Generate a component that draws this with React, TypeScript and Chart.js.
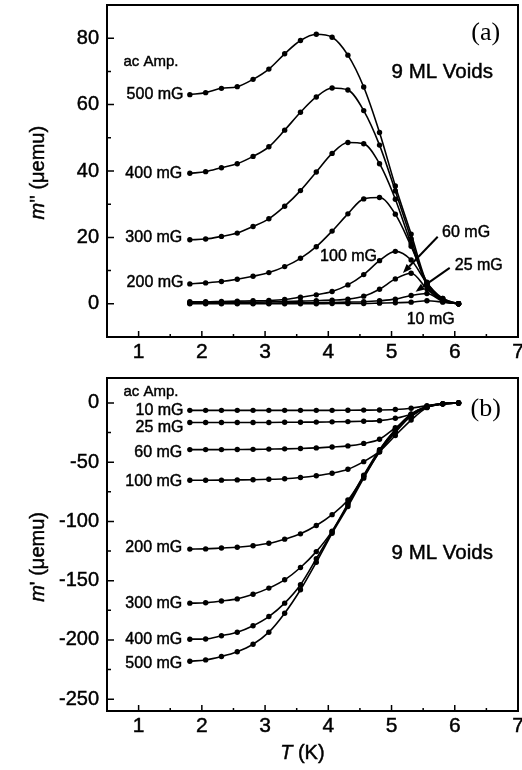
import React, { useEffect, useRef } from 'react';
import { Chart, registerables } from 'chart.js';
Chart.register(...registerables);

const FONT = '"Liberation Sans", Arial, sans-serif';
const SERIF = '"Liberation Serif", "Times New Roman", serif';

// Temperature (K)
const T = [1.81, 2.06, 2.31, 2.56, 2.81, 3.06, 3.31, 3.56, 3.81, 4.06, 4.31, 4.56, 4.81, 5.06, 5.31, 5.56, 5.81, 6.06];

// Panel (a): m'' (uemu)
const M2_500 = [63.0, 63.6, 64.9, 65.4, 67.6, 70.7, 75.3, 79.3, 81.2, 80.3, 74.9, 65.3, 51.6, 35.5, 21.0, 6.2, 1.6, 0];
const M2_400 = [39.3, 39.8, 41.0, 42.2, 44.4, 47.3, 52.3, 57.7, 62.3, 65.0, 64.4, 58.2, 47.8, 34.0, 19.5, 5.5, 1.1, 0];
const M2_300 = [19.3, 19.5, 20.3, 21.3, 23.3, 25.6, 29.4, 34.1, 39.7, 45.3, 48.6, 48.2, 42.2, 31.5, 18.0, 6.0, 1.1, 0];
const M2_200 = [6.0, 6.3, 6.7, 7.4, 8.3, 9.4, 11.2, 13.7, 17.2, 21.9, 27.1, 31.6, 32.0, 27.0, 17.3, 6.5, 1.6, 0];
const M2_100 = [0.6, 0.6, 0.7, 0.8, 0.9, 1.0, 1.3, 2.0, 2.7, 3.7, 5.7, 8.8, 13.0, 15.8, 13.2, 6.2, 1.2, 0];
const M2_60 = [0.4, 0.4, 0.4, 0.5, 0.5, 0.6, 0.7, 0.8, 0.9, 1.1, 1.4, 2.3, 4.4, 7.5, 9.2, 4.5, 0.9, 0];
const M2_25 = [0.2, 0.2, 0.2, 0.2, 0.2, 0.2, 0.3, 0.3, 0.3, 0.4, 0.5, 0.6, 0.9, 1.4, 2.5, 3.1, 0.7, 0];
const M2_10 = [0.0, 0.0, 0.0, 0.0, 0.0, 0.0, 0.0, 0.0, 0.0, 0.1, 0.1, 0.1, 0.2, 0.3, 0.5, 0.9, 0.5, 0];

// Panel (b): m' (uemu)
const M1_10 = [-6.3, -6.3, -6.3, -6.3, -6.3, -6.3, -6.3, -6.3, -6.3, -6.3, -6.2, -6.1, -6.0, -5.6, -4.5, -2.3, -0.8, 0];
const M1_25 = [-16.6, -16.6, -16.6, -16.6, -16.6, -16.5, -16.4, -16.3, -16.2, -16.0, -15.8, -15.5, -15.0, -13.0, -9.5, -3.5, -0.8, 0];
const M1_60 = [-39.4, -39.4, -39.4, -39.3, -39.2, -39.0, -38.8, -38.5, -38.0, -37.2, -36.3, -34.2, -30.7, -21.0, -11.5, -3.5, -0.8, 0];
const M1_100 = [-65.3, -65.3, -65.2, -65.0, -64.8, -64.5, -64.0, -63.0, -61.5, -59.4, -56.0, -49.6, -41.0, -27.5, -14.5, -4.0, -0.8, 0];
const M1_200 = [-123.4, -123.2, -122.5, -121.8, -120.5, -118.5, -115.0, -110.5, -103.5, -94.3, -82.0, -62.0, -41.5, -25.0, -11.0, -3.5, -0.8, 0];
const M1_300 = [-169.0, -168.7, -167.2, -165.4, -161.5, -156.3, -149.3, -138.9, -125.5, -108.2, -85.0, -61.0, -39.5, -22.5, -9.5, -3.0, -0.8, 0];
const M1_400 = [-199.4, -199.2, -196.5, -193.5, -188.0, -180.3, -169.0, -153.5, -131.5, -108.8, -86.0, -62.0, -40.0, -22.5, -9.5, -3.0, -0.8, 0];
const M1_500 = [-218.0, -216.9, -214.0, -210.0, -203.7, -193.5, -177.5, -157.7, -134.5, -110.0, -87.5, -63.5, -41.0, -23.5, -10.0, -3.2, -0.8, 0];

// Tick values
const X_TICKS = [1, 2, 3, 4, 5, 6, 7];
const X_MINOR = [1.5, 2.5, 3.5, 4.5, 5.5, 6.5];
const A_Y_TICKS = [0, 20, 40, 60, 80];
const A_Y_MINOR = [10, 30, 50, 70];
const B_Y_TICKS = [-250, -200, -150, -100, -50, 0];
const B_Y_MINOR = [-225, -175, -125, -75, -25];

type Piece = { text: string; italic?: boolean };
type Ann = { text: string; x: number; y: number; align: CanvasTextAlign; size: number; serif?: boolean };
type Arrow = { x1: number; y1: number; x2: number; y2: number };
type Panel = {
  series: { label: string; values: number[] }[];
  yMin: number; yMax: number; yTicks: number[]; yMinor: number[];
  padTop: number; xAxisHeight: number;
  anns: Ann[]; arrows: Arrow[];
  yTitle: Piece[]; yTitleAt: number;
  xTitle?: Piece[]; xTitleAt?: number;
};

const PANEL_A: Panel = {
  series: [
    { label: '500 mG', values: M2_500 },
    { label: '400 mG', values: M2_400 },
    { label: '300 mG', values: M2_300 },
    { label: '200 mG', values: M2_200 },
    { label: '100 mG', values: M2_100 },
    { label: '60 mG', values: M2_60 },
    { label: '25 mG', values: M2_25 },
    { label: '10 mG', values: M2_10 },
  ],
  yMin: -10, yMax: 90, yTicks: A_Y_TICKS, yMinor: A_Y_MINOR,
  padTop: 5, xAxisHeight: 33,
  anns: [
    { text: 'ac Amp.', x: 0.76, y: 72.8, align: 'left', size: 15 },
    { text: '500 mG', x: 1.71, y: 62.9, align: 'right', size: 16 },
    { text: '400 mG', x: 1.69, y: 39.1, align: 'right', size: 16 },
    { text: '300 mG', x: 1.69, y: 19.8, align: 'right', size: 16 },
    { text: '200 mG', x: 1.71, y: 6.3, align: 'right', size: 16 },
    { text: '100 mG', x: 3.87, y: 14.1, align: 'left', size: 16 },
    { text: '60 mG', x: 5.80, y: 21.4, align: 'left', size: 16 },
    { text: '25 mG', x: 6.00, y: 11.4, align: 'left', size: 16 },
    { text: '10 mG', x: 5.24, y: -4.8, align: 'left', size: 16 },
    { text: '9 ML Voids', x: 5.0, y: 69.8, align: 'left', size: 20.5 },
    { text: '(a)', x: 6.49, y: 81.5, align: 'center', size: 26, serif: true },
  ],
  arrows: [
    { x1: 5.73, y1: 20.2, x2: 5.18, y2: 9.3 },
    { x1: 5.92, y1: 10.8, x2: 5.38, y2: 3.6 },
  ],
  yTitle: [{ text: 'm', italic: true }, { text: "'' (\u03bcemu)" }],
  yTitleAt: 39.5,
};

const PANEL_B: Panel = {
  series: [
    { label: '10 mG', values: M1_10 },
    { label: '25 mG', values: M1_25 },
    { label: '60 mG', values: M1_60 },
    { label: '100 mG', values: M1_100 },
    { label: '200 mG', values: M1_200 },
    { label: '300 mG', values: M1_300 },
    { label: '400 mG', values: M1_400 },
    { label: '500 mG', values: M1_500 },
  ],
  yMin: -260, yMax: 21, yTicks: B_Y_TICKS, yMinor: B_Y_MINOR,
  padTop: 8, xAxisHeight: 59,
  anns: [
    { text: 'ac Amp.', x: 0.76, y: 9.3, align: 'left', size: 15 },
    { text: '10 mG', x: 1.71, y: -6.8, align: 'right', size: 16 },
    { text: '25 mG', x: 1.71, y: -21, align: 'right', size: 16 },
    { text: '60 mG', x: 1.69, y: -42, align: 'right', size: 16 },
    { text: '100 mG', x: 1.69, y: -66, align: 'right', size: 16 },
    { text: '200 mG', x: 1.69, y: -122.5, align: 'right', size: 16 },
    { text: '300 mG', x: 1.69, y: -169, align: 'right', size: 16 },
    { text: '400 mG', x: 1.69, y: -200, align: 'right', size: 16 },
    { text: '500 mG', x: 1.69, y: -220, align: 'right', size: 16 },
    { text: '9 ML Voids', x: 5.0, y: -126.7, align: 'left', size: 20.5 },
    { text: '(b)', x: 6.49, y: -5, align: 'center', size: 26, serif: true },
  ],
  arrows: [],
  yTitle: [{ text: 'm', italic: true }, { text: "' (\u03bcemu)" }],
  yTitleAt: -130,
  xTitle: [{ text: 'T', italic: true }, { text: ' (K)' }],
  xTitleAt: 3.59,
};

const TEXT_STROKE = 0.45;

function drawPieces(ctx: CanvasRenderingContext2D, pieces: Piece[], size: number, cx: number, cy: number, rot: number) {
  ctx.save();
  ctx.translate(cx, cy);
  ctx.rotate(rot);
  ctx.textBaseline = 'middle';
  ctx.textAlign = 'left';
  ctx.lineWidth = TEXT_STROKE;
  const fonts = pieces.map(p => `${p.italic ? 'italic ' : ''}${size}px ${FONT}`);
  let total = 0;
  const widths = pieces.map((p, i) => { ctx.font = fonts[i]; const w = ctx.measureText(p.text).width; total += w; return w; });
  let x = -total / 2;
  pieces.forEach((p, i) => {
    ctx.font = fonts[i];
    ctx.fillText(p.text, x, 0);
    ctx.strokeText(p.text, x, 0);
    x += widths[i];
  });
  ctx.restore();
}

function decor(p: Panel) {
  return {
    id: 'decor',
    afterDraw(chart: any) {
      const { ctx, chartArea: ca, scales } = chart;
      const xs = scales.x, ys = scales.y;
      ctx.save();
      ctx.strokeStyle = '#000';
      ctx.fillStyle = '#000';
      ctx.lineWidth = 1.5;
      ctx.beginPath();
      X_TICKS.forEach(v => { const px = xs.getPixelForValue(v); ctx.moveTo(px, ca.bottom); ctx.lineTo(px, ca.bottom - 6); });
      X_MINOR.forEach(v => { const px = xs.getPixelForValue(v); ctx.moveTo(px, ca.bottom); ctx.lineTo(px, ca.bottom - 3); });
      p.yTicks.forEach(v => { const py = ys.getPixelForValue(v); ctx.moveTo(ca.left, py); ctx.lineTo(ca.left + 7, py); });
      p.yMinor.forEach(v => { const py = ys.getPixelForValue(v); ctx.moveTo(ca.left, py); ctx.lineTo(ca.left + 4, py); });
      ctx.stroke();
      ctx.lineWidth = 2;
      ctx.strokeRect(ca.left, ca.top, ca.right - ca.left, ca.bottom - ca.top);

      ctx.lineWidth = TEXT_STROKE;
      p.anns.forEach(a => {
        ctx.font = `${a.size}px ${a.serif ? SERIF : FONT}`;
        ctx.textAlign = a.align;
        ctx.textBaseline = 'middle';
        const px = xs.getPixelForValue(a.x), py = ys.getPixelForValue(a.y);
        ctx.fillText(a.text, px, py);
        if (!a.serif) ctx.strokeText(a.text, px, py);
      });

      p.arrows.forEach(ar => {
        const x1 = xs.getPixelForValue(ar.x1), y1 = ys.getPixelForValue(ar.y1);
        const x2 = xs.getPixelForValue(ar.x2), y2 = ys.getPixelForValue(ar.y2);
        const ang = Math.atan2(y2 - y1, x2 - x1);
        const hl = 9, hw = 3.5;
        const bx = x2 - hl * Math.cos(ang), by = y2 - hl * Math.sin(ang);
        ctx.lineWidth = 2;
        ctx.beginPath(); ctx.moveTo(x1, y1); ctx.lineTo(bx, by); ctx.stroke();
        ctx.beginPath();
        ctx.moveTo(x2, y2);
        ctx.lineTo(bx + hw * Math.sin(ang), by - hw * Math.cos(ang));
        ctx.lineTo(bx - hw * Math.sin(ang), by + hw * Math.cos(ang));
        ctx.closePath(); ctx.fill();
      });

      drawPieces(ctx, p.yTitle, 20, 38, ys.getPixelForValue(p.yTitleAt), -Math.PI / 2);
      if (p.xTitle && p.xTitleAt !== undefined) {
        drawPieces(ctx, p.xTitle, 20, xs.getPixelForValue(p.xTitleAt), ca.bottom + 42, 0);
      }
      ctx.restore();
    },
  };
}

function zeroPad(s: any) {
  s.paddingTop = 0; s.paddingBottom = 0; s.paddingLeft = 0; s.paddingRight = 0;
}

function buildConfig(p: Panel): any {
  return {
    type: 'line',
    data: {
      datasets: p.series.map(s => ({
        label: s.label,
        data: T.map((t, i) => ({ x: t, y: s.values[i] })),
        borderColor: '#000',
        backgroundColor: '#000',
        borderWidth: 1.6,
        pointRadius: 2.7,
        pointBackgroundColor: '#000',
        pointBorderWidth: 0,
        cubicInterpolationMode: 'monotone',
        fill: false,
      })),
    },
    options: {
      animation: false,
      responsive: false,
      events: [],
      layout: { padding: { left: 0, right: 4, top: p.padTop, bottom: 0 } },
      plugins: { legend: { display: false }, tooltip: { enabled: false } },
      scales: {
        x: {
          type: 'linear', min: 0.5, max: 7,
          grid: { display: false, drawTicks: false },
          border: { display: false },
          ticks: { padding: 3, color: '#000', autoSkip: false, maxRotation: 0, textStrokeColor: '#000', textStrokeWidth: TEXT_STROKE, font: { family: FONT, size: 21 } },
          afterBuildTicks: (s: any) => { s.ticks = X_TICKS.map(v => ({ value: v })); },
          afterFit: (s: any) => { s.height = p.xAxisHeight; zeroPad(s); },
        },
        y: {
          type: 'linear', min: p.yMin, max: p.yMax,
          grid: { display: false, drawTicks: false },
          border: { display: false },
          ticks: { padding: 8, color: '#000', autoSkip: false, textStrokeColor: '#000', textStrokeWidth: TEXT_STROKE, font: { family: FONT, size: 20 } },
          afterBuildTicks: (s: any) => { s.ticks = p.yTicks.map(v => ({ value: v })); },
          afterFit: (s: any) => { s.width = 107; zeroPad(s); },
        },
      },
    },
    plugins: [decor(p)],
  };
}

function PanelChart({ panel, top, height }: { panel: Panel; top: number; height: number }) {
  const ref = useRef<HTMLCanvasElement | null>(null);
  useEffect(() => {
    if (!ref.current) return;
    const chart = new Chart(ref.current, buildConfig(panel));
    return () => chart.destroy();
  }, [panel]);
  return (
    <canvas
      ref={ref}
      width={522}
      height={height}
      style={{ position: 'absolute', left: 0, top, width: 522, height, display: 'block' }}
    />
  );
}

export default function App() {
  return (
    <div style={{ position: 'absolute', left: 0, top: 0, width: 522, height: 770, background: '#fff', overflow: 'hidden' }}>
      <PanelChart panel={PANEL_A} top={0} height={370} />
      <PanelChart panel={PANEL_B} top={370} height={400} />
    </div>
  );
}
